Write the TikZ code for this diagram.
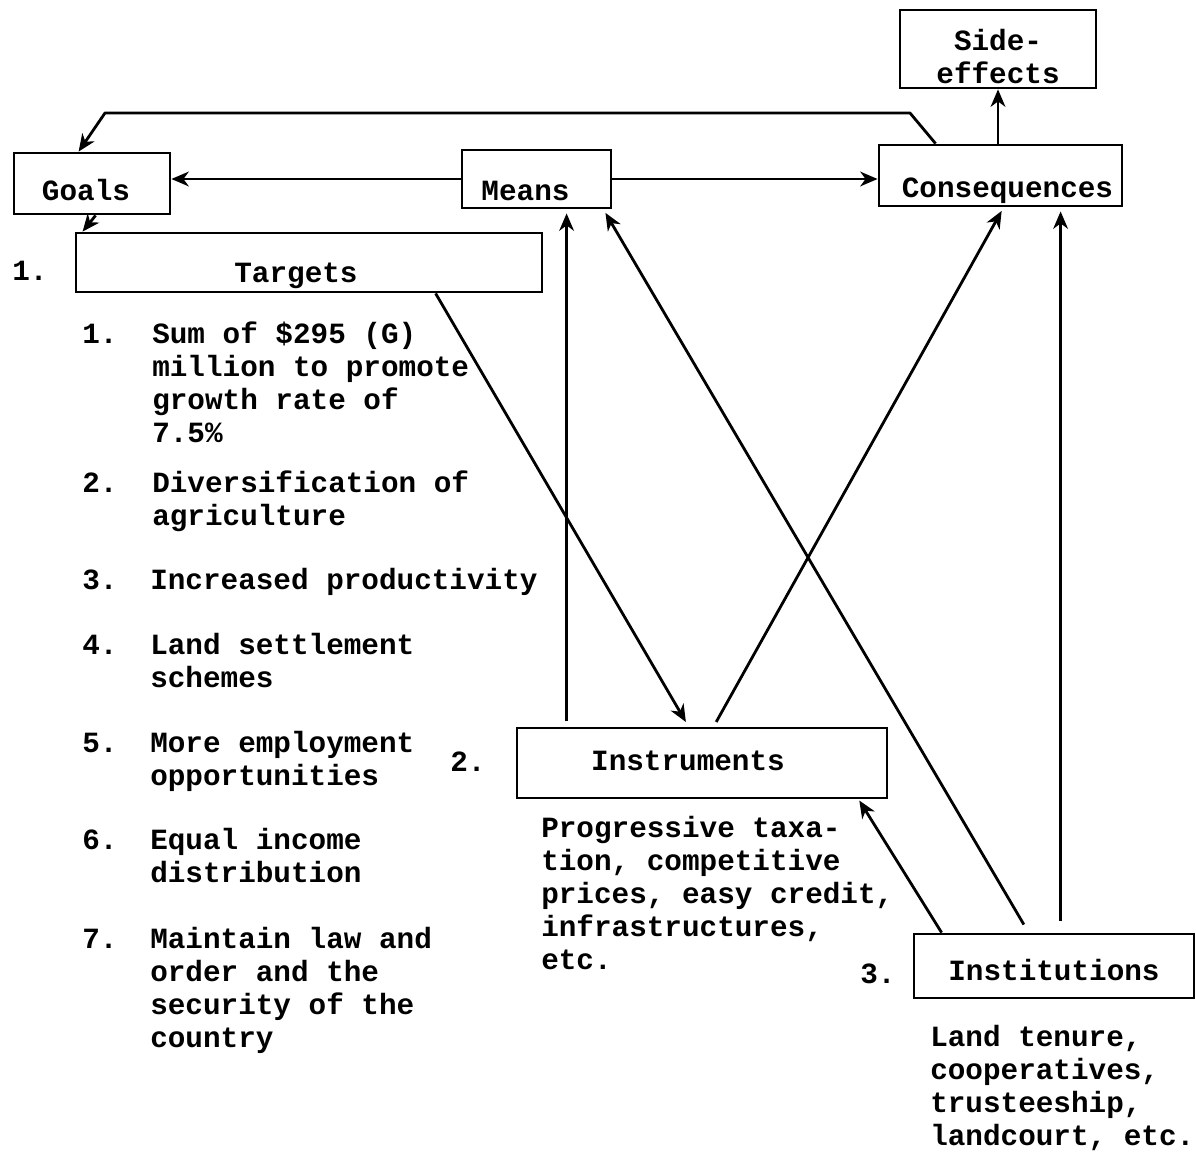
\documentclass[tikz,border=0pt]{standalone}
\usepackage{fontspec}
\setmainfont{Liberation Mono}
\usetikzlibrary{arrows.meta}
\begin{document}
\begin{tikzpicture}[x=0.75pt,y=-0.75pt,
  font=\fontsize{22}{24.75}\selectfont\bfseries,
  box/.style={draw,line width=2.1pt,inner sep=0pt,align=center},
  txt/.style={anchor=base west,inner sep=0pt,align=left},
  arr/.style={line width=2.1pt,-{Stealth[length=13pt,width=11pt,inset=4pt]}}]
\useasboundingbox (0,0) rectangle (1196,1153);
% boxes
\node[box,minimum width=147pt,text height=54.75pt,text depth=3.75pt] (side) at (998,49) {Side-\\effects};
\node[box,minimum width=117pt,text height=35.25pt,text depth=10.5pt] (goals) at (92,183.5) {Goals\hspace*{9pt}};
\node[box,minimum width=111.75pt,text height=37.5pt,text depth=6pt] (means) at (536.5,179) {Means\hspace*{16.5pt}};
\node[box,minimum width=182.25pt,text height=39pt,text depth=6.75pt] (conseq) at (1000.5,175.5) {\hspace*{10.5pt}Consequences};
\node[box,minimum width=349.5pt,text height=36.75pt,text depth=7.5pt] (targets) at (309,262.5) {Targets\hspace*{19.5pt}};
\node[box,minimum width=277.5pt,text height=31.5pt,text depth=21pt] (instr) at (702,763) {Instruments\hspace*{21pt}};
\node[box,minimum width=210pt,text height=34.5pt,text depth=13.5pt] (inst) at (1054,966) {Institutions};
% numbers
\node[txt] (n1) at (12,280) {1.};
\node[txt] (n2) at (450,771) {2.};
\node[txt] (n3) at (860,983) {3.};
% target list
\node[txt] (l1) at (82,343) {1.};
\node[txt] (t1) at (152,442) {Sum of \$295 (G)\\million to promote\\growth rate of\\7.5\%};
\node[txt] (l2) at (82,492) {2.};
\node[txt] (t2) at (152,525) {Diversification of\\agriculture};
\node[txt] (l3) at (82,589) {3.};
\node[txt] (t3) at (150,589) {Increased productivity};
\node[txt] (l4) at (82,654) {4.};
\node[txt] (t4) at (150,687) {Land settlement\\schemes};
\node[txt] (l5) at (82,752) {5.};
\node[txt] (t5) at (150,785) {More employment\\opportunities};
\node[txt] (l6) at (82,849) {6.};
\node[txt] (t6) at (150,882) {Equal income\\distribution};
\node[txt] (l7) at (82,948) {7.};
\node[txt] (t7) at (150,1047) {Maintain law and\\order and the\\security of the\\country};
% descriptions
\node[txt] (d1) at (541,969) {Progressive taxa-\\tion, competitive\\prices, easy credit,\\infrastructures,\\etc.};
\node[txt] (d2) at (930,1145) {Land tenure,\\cooperatives,\\trusteeship,\\landcourt, etc.};
% waypoints
\coordinate (w1) at (910,113);
\coordinate (w2) at (105,113);
% connectors
\draw[arr,line join=round] ([xshift=43.5pt]conseq.north west) -- (w1) -- (w2) -- ([xshift=49.5pt]goals.north west);
\draw[arr] (means.west) -- (goals.east |- means.west);
\draw[arr] (means.east) -- (conseq.west |- means.east);
\draw[arr] (side.south |- conseq.north) -- (side.south);
\draw[arr] ([xshift=62.25pt]goals.south west) -- ([xshift=6pt]targets.north west);
\draw[arr,shorten >=4pt] ([xshift=270.75pt]targets.south west) -- ([xshift=129.75pt]instr.north west);
\draw[arr,shorten <=4pt,shorten >=3pt] ([xshift=38.25pt]instr.north west) -- ([xshift=79.5pt]means.south west);
\draw[arr,shorten <=4pt,shorten >=3pt] ([xshift=148.5pt]instr.north west) -- ([xshift=94.5pt]conseq.south west);
\draw[arr,shorten <=7pt,shorten >=3pt] ([xshift=87pt]inst.north west) -- ([xshift=-6.75pt]means.south east);
\draw[arr,shorten <=9pt,shorten >=3pt] ([xshift=111pt]inst.north west) -- ([xshift=137.25pt]conseq.south west);
\draw[arr,shorten >=1pt] ([xshift=21.75pt]inst.north west) -- ([xshift=257.25pt]instr.south west);
\end{tikzpicture}
\end{document}
